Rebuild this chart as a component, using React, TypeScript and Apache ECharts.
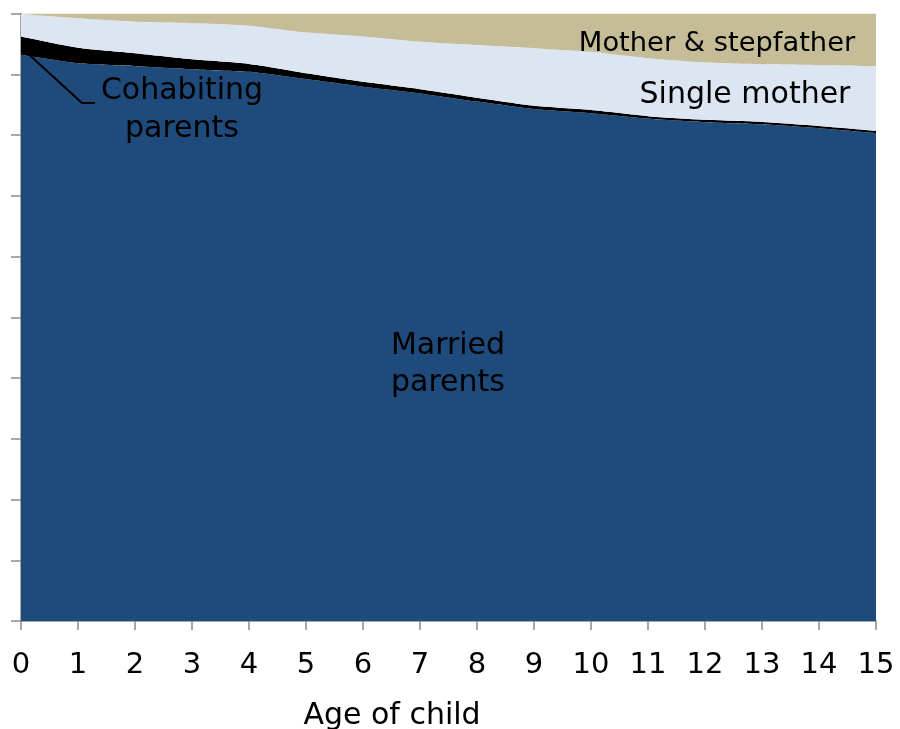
import React, { useEffect, useRef } from "react";
import * as echarts from "echarts";

const ages = ["0", "1", "2", "3", "4", "5", "6", "7", "8", "9", "10", "11", "12", "13", "14", "15"];
const married = [93.2, 91.8, 91.35, 90.8, 90.4, 89.2, 87.95, 86.85, 85.5, 84.3, 83.6, 82.7, 82.1, 81.75, 81.1, 80.3];
const cohabiting = [3.0, 2.55, 2.1, 1.65, 1.3, 0.95, 0.8, 0.7, 0.65, 0.5, 0.5, 0.4, 0.4, 0.4, 0.4, 0.4];
const singleMother = [3.7, 4.85, 5.2, 5.95, 6.3, 6.75, 7.45, 7.8, 8.65, 9.5, 9.6, 9.55, 9.45, 9.5, 10.0, 10.65];
const stepfather = [0.1, 0.8, 1.35, 1.6, 2.0, 3.1, 3.8, 4.65, 5.2, 5.7, 6.3, 7.35, 8.05, 8.35, 8.5, 8.65];

const FONT = "DejaVu Sans, Verdana, sans-serif";

export default function App() {
  const ref = useRef<HTMLDivElement>(null);
  useEffect(() => {
    if (!ref.current) return;
    const chart = echarts.init(ref.current, null, { renderer: "svg" });
    const mk = (name: string, vals: number[], color: string) => ({
      name,
      type: "line",
      stack: "total",
      smooth: 0.2,
      symbol: "none",
      lineStyle: { width: 0 },
      areaStyle: { color, opacity: 1 },
      data: vals,
    });
    chart.setOption({
      animation: false,
      grid: { left: 21, right: 24, top: 13.5, bottom: 108, containLabel: false },
      xAxis: {
        type: "category",
        data: ages,
        boundaryGap: false,
        axisLine: { show: true, lineStyle: { color: "#8a8a8a", width: 1.5 } },
        axisTick: { show: true, length: 9, alignWithLabel: true, lineStyle: { color: "#8a8a8a", width: 1.5 } },
        axisLabel: { color: "#000", fontSize: 29, fontFamily: FONT, margin: 27, interval: 0 },
        splitLine: { show: false },
      },
      yAxis: {
        type: "value",
        min: 0,
        max: 100,
        interval: 10,
        axisLine: { show: true, lineStyle: { color: "#8a8a8a", width: 1.5 } },
        axisTick: { show: true, length: 10, lineStyle: { color: "#8a8a8a", width: 1.5 } },
        axisLabel: { show: false },
        splitLine: { show: false },
      },
      series: [
        mk("Married parents", married, "#1F4A7C"),
        mk("Cohabiting parents", cohabiting, "#000000"),
        mk("Single mother", singleMother, "#DCE6F2"),
        mk("Mother & stepfather", stepfather, "#C4BD97"),
      ],
      graphic: [
        {
          type: "polyline",
          shape: { points: [[24, 50], [82, 103], [95, 103]] },
          style: { stroke: "#000", lineWidth: 2, fill: null },
          z: 100,
        },
        { type: "text", x: 717, y: 41, style: { text: "Mother & stepfather", font: `27.3px ${FONT}`, fill: "#000", align: "center", verticalAlign: "middle" }, z: 100 },
        { type: "text", x: 745, y: 92, style: { text: "Single mother", font: `30px ${FONT}`, fill: "#000", align: "center", verticalAlign: "middle" }, z: 100 },
        { type: "text", x: 182, y: 107, style: { text: "Cohabiting\nparents", font: `30px ${FONT}`, lineHeight: 38, fill: "#000", align: "center", verticalAlign: "middle" }, z: 100 },
        { type: "text", x: 448, y: 362, style: { text: "Married\nparents", font: `30px ${FONT}`, lineHeight: 37, fill: "#000", align: "center", verticalAlign: "middle" }, z: 100 },
        { type: "text", x: 392, y: 713, style: { text: "Age of child", font: `30px ${FONT}`, fill: "#000", align: "center", verticalAlign: "middle" }, z: 100 },
      ],
    });
    return () => chart.dispose();
  }, []);
  return <div ref={ref} style={{ position: "fixed", left: 0, top: 0, width: 900, height: 729 }} />;
}
